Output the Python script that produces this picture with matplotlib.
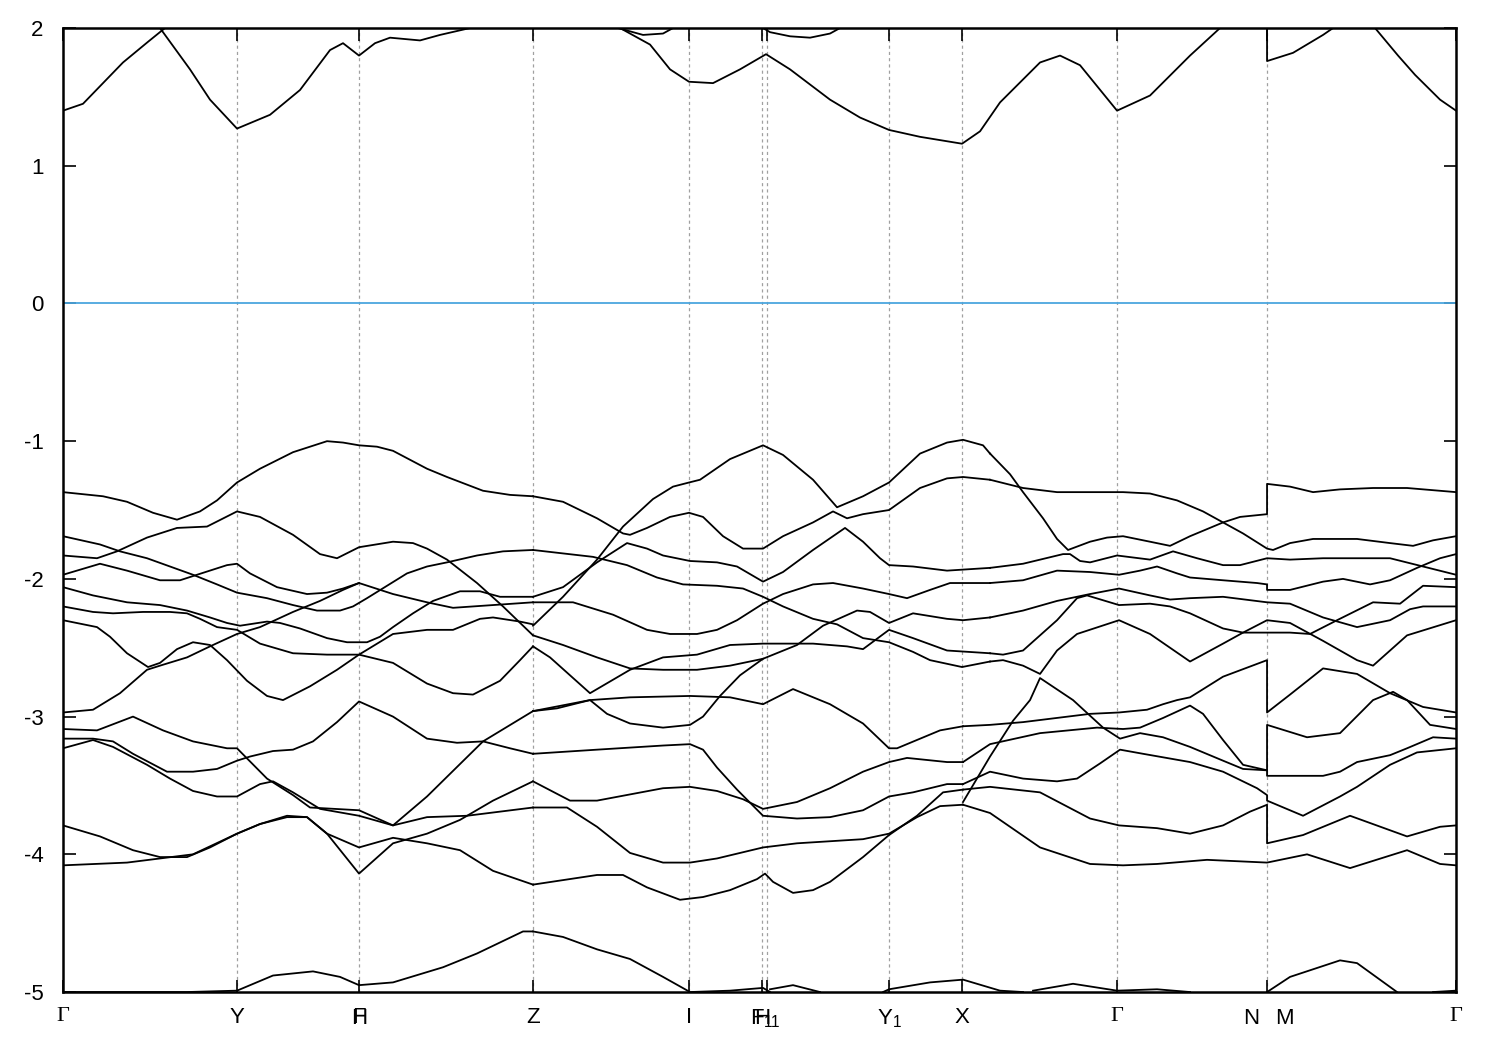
import matplotlib
matplotlib.use("Agg")
import matplotlib.pyplot as plt

plt.rcParams["font.family"] = ["Liberation Sans", "DejaVu Sans"]
plt.rcParams["mathtext.fontset"] = "custom"
plt.rcParams["mathtext.rm"] = "Liberation Sans"
plt.rcParams["mathtext.default"] = "regular"

# high-symmetry points along the path (arbitrary k units)
kpath = [0.00, 1.74, 2.96, 4.70, 6.26, 6.99, 7.04, 8.26, 8.99, 10.54, 12.04, 13.93]
klabels = ["Γ", "Y", "F", "Z", "I", "F$_1$", "H$_1$", "Y$_1$", "X", "Γ", "", "Γ"]
ylim = (-5, 2)
yticks = [-5, -4, -3, -2, -1, 0, 1, 2]

# ---- conduction bands (clipped at the top) ----
cond = [
    [(0.00, 1.40), (0.20, 1.45), (0.40, 1.60), (0.60, 1.75), (0.85, 1.90), (1.02, 2.00), (1.10, 2.06)],
    [(0.90, 2.06), (0.97, 2.00), (1.27, 1.70), (1.47, 1.48), (1.74, 1.27), (2.07, 1.37), (2.37, 1.55),
     (2.67, 1.84), (2.80, 1.89), (2.96, 1.80), (3.12, 1.89), (3.27, 1.93), (3.57, 1.91), (3.77, 1.95),
     (4.07, 2.00), (4.20, 2.03)],
    [(5.50, 2.05), (5.57, 2.00), (5.87, 1.88), (6.07, 1.70), (6.26, 1.61), (6.50, 1.60), (6.77, 1.70),
     (7.03, 1.81), (7.27, 1.70), (7.67, 1.48), (7.97, 1.35), (8.26, 1.26), (8.57, 1.21), (8.99, 1.16),
     (9.17, 1.25), (9.37, 1.46), (9.77, 1.75), (9.97, 1.80), (10.17, 1.73), (10.54, 1.40), (10.87, 1.51),
     (11.27, 1.80), (11.57, 2.00), (11.65, 2.05)],
    [(5.50, 2.03), (5.55, 2.00), (5.80, 1.95), (6.00, 1.96), (6.10, 2.00), (6.15, 2.03)],
    [(6.95, 2.03), (7.00, 2.00), (7.07, 1.97), (7.27, 1.94), (7.47, 1.93), (7.67, 1.96), (7.77, 2.00), (7.82, 2.03)],
    [(12.04, 2.05), (12.04, 1.76), (12.30, 1.82), (12.60, 1.95), (12.80, 2.05)],
    [(13.05, 2.05), (13.12, 2.00), (13.35, 1.80), (13.52, 1.66), (13.77, 1.48), (13.93, 1.40)],
]

# ---- valence bands, Γ - Y - F|H - Z ----
val_gz = [
    [(0, -1.37), (0.40, -1.40), (0.64, -1.44), (0.90, -1.52), (1.14, -1.57), (1.37, -1.51), (1.54, -1.43),
     (1.74, -1.30), (1.97, -1.20), (2.30, -1.08), (2.64, -1.00), (2.80, -1.01), (2.96, -1.03), (3.14, -1.04),
     (3.30, -1.07), (3.64, -1.20), (3.84, -1.26), (4.20, -1.36), (4.47, -1.39), (4.70, -1.40)],
    [(0, -1.69), (0.37, -1.75), (0.57, -1.80), (0.84, -1.85), (1.07, -1.91), (1.30, -1.97), (1.54, -2.04),
     (1.74, -2.10), (2.04, -2.14), (2.30, -2.19), (2.54, -2.23), (2.77, -2.23), (2.90, -2.20), (3.04, -2.14),
     (3.24, -2.05), (3.44, -1.96), (3.64, -1.91), (3.84, -1.88), (4.14, -1.83), (4.40, -1.80), (4.70, -1.79)],
    [(0, -1.83), (0.34, -1.85), (0.54, -1.80), (0.84, -1.70), (1.14, -1.63), (1.44, -1.62), (1.74, -1.51),
     (1.97, -1.55), (2.30, -1.68), (2.57, -1.82), (2.74, -1.85), (2.96, -1.77), (3.30, -1.73), (3.50, -1.74),
     (3.64, -1.78), (3.84, -1.86), (4.14, -2.03), (4.40, -2.20), (4.70, -2.41)],
    [(0, -1.97), (0.37, -1.89), (0.64, -1.94), (0.97, -2.01), (1.17, -2.01), (1.34, -1.97), (1.64, -1.90),
     (1.74, -1.89), (1.87, -1.96), (2.14, -2.06), (2.44, -2.11), (2.64, -2.10), (2.80, -2.07), (2.96, -2.03),
     (3.30, -2.11), (3.64, -2.17), (3.90, -2.21), (4.30, -2.19), (4.70, -2.17)],
    [(0, -2.06), (0.30, -2.12), (0.64, -2.17), (0.97, -2.19), (1.24, -2.23), (1.47, -2.28), (1.64, -2.32),
     (1.77, -2.34), (2.04, -2.31), (2.17, -2.32), (2.37, -2.36), (2.64, -2.43), (2.84, -2.46), (3.04, -2.46),
     (3.17, -2.42), (3.30, -2.35), (3.50, -2.25), (3.70, -2.16), (3.97, -2.09), (4.17, -2.09), (4.37, -2.13),
     (4.70, -2.13)],
    [(0, -2.20), (0.30, -2.24), (0.50, -2.25), (0.80, -2.24), (1.07, -2.24), (1.24, -2.25), (1.37, -2.29),
     (1.54, -2.35), (1.74, -2.37), (1.97, -2.47), (2.30, -2.54), (2.64, -2.55), (2.96, -2.55), (3.30, -2.40),
     (3.64, -2.37), (3.90, -2.37), (4.17, -2.29), (4.30, -2.28), (4.57, -2.31), (4.70, -2.33)],
    [(0, -2.30), (0.34, -2.35), (0.47, -2.42), (0.64, -2.54), (0.85, -2.64), (0.97, -2.61), (1.14, -2.51),
     (1.30, -2.46), (1.47, -2.48), (1.64, -2.59), (1.84, -2.74), (2.04, -2.85), (2.20, -2.88), (2.47, -2.78),
     (2.74, -2.66), (2.96, -2.55), (3.30, -2.61), (3.64, -2.76), (3.90, -2.83), (4.10, -2.84), (4.37, -2.74),
     (4.57, -2.59), (4.70, -2.49)],
    [(0, -2.97), (0.30, -2.95), (0.57, -2.83), (0.84, -2.66), (0.97, -2.63), (1.24, -2.57), (1.47, -2.49),
     (1.74, -2.40), (1.97, -2.35), (2.30, -2.24), (2.57, -2.16), (2.80, -2.08), (2.96, -2.03)],
    [(0, -3.09), (0.34, -3.10), (0.70, -3.00), (1.00, -3.10), (1.30, -3.18), (1.64, -3.23), (1.74, -3.23),
     (2.04, -3.45), (2.30, -3.57), (2.47, -3.66), (2.96, -3.68), (3.30, -3.79), (3.64, -3.58), (4.20, -3.18),
     (4.70, -2.96)],
    [(0, -3.16), (0.30, -3.16), (0.50, -3.18), (0.70, -3.27), (1.04, -3.40), (1.30, -3.40), (1.54, -3.38),
     (1.74, -3.32), (1.87, -3.29), (2.10, -3.25), (2.30, -3.24), (2.50, -3.18), (2.74, -3.04), (2.96, -2.89),
     (3.30, -3.00), (3.64, -3.16), (3.94, -3.19), (4.20, -3.18), (4.47, -3.23), (4.70, -3.27)],
    [(0, -3.23), (0.30, -3.17), (0.50, -3.22), (0.84, -3.35), (1.07, -3.45), (1.30, -3.54), (1.54, -3.58),
     (1.74, -3.58), (1.97, -3.49), (2.10, -3.47), (2.30, -3.55), (2.57, -3.67), (2.96, -3.72), (3.30, -3.79),
     (3.64, -3.73), (4.04, -3.72), (4.70, -3.66)],
    [(0, -3.79), (0.37, -3.87), (0.70, -3.97), (0.97, -4.02), (1.24, -4.02), (1.47, -3.95), (1.74, -3.85),
     (1.97, -3.78), (2.24, -3.73), (2.44, -3.73), (2.64, -3.85), (2.96, -4.14), (3.30, -3.92), (3.64, -3.85),
     (3.97, -3.75), (4.30, -3.61), (4.70, -3.47)],
    [(0, -4.08), (0.64, -4.06), (0.97, -4.03), (1.30, -4.00), (1.74, -3.85), (1.97, -3.78), (2.24, -3.72),
     (2.44, -3.73), (2.64, -3.85), (2.96, -3.95), (3.30, -3.88), (3.64, -3.92), (3.97, -3.97), (4.30, -4.12),
     (4.70, -4.22)],
    [(0, -5.00), (0.37, -5.00), (1.24, -5.00), (1.74, -4.99), (2.10, -4.88), (2.50, -4.85), (2.77, -4.89),
     (2.96, -4.95), (3.30, -4.93), (3.80, -4.82), (4.14, -4.72), (4.60, -4.56), (4.70, -4.56)],
]

# ---- valence bands, Z - I - F1|H1 - Y1 - X ----
val_zx = [
    [(4.70, -1.40), (5.00, -1.44), (5.34, -1.56), (5.60, -1.67), (5.67, -1.68), (5.84, -1.63), (6.07, -1.55),
     (6.26, -1.52), (6.40, -1.55), (6.60, -1.69), (6.80, -1.78), (7.00, -1.78), (7.20, -1.69), (7.50, -1.59),
     (7.70, -1.51), (7.84, -1.56), (8.00, -1.53), (8.26, -1.50), (8.57, -1.34), (8.84, -1.27), (9.00, -1.26),
     (9.27, -1.28)],
    [(4.70, -2.34), (5.00, -2.13), (5.34, -1.86), (5.60, -1.62), (5.90, -1.42), (6.10, -1.33), (6.26, -1.30),
     (6.37, -1.28), (6.67, -1.13), (7.00, -1.03), (7.20, -1.10), (7.50, -1.28), (7.74, -1.48), (8.00, -1.40),
     (8.26, -1.30), (8.57, -1.09), (8.84, -1.01), (9.00, -0.99), (9.20, -1.03), (9.27, -1.09)],
    [(4.70, -1.79), (5.30, -1.84), (5.64, -1.90), (5.94, -1.99), (6.20, -2.04), (6.54, -2.05), (6.80, -2.07),
     (7.00, -2.13), (7.20, -2.20), (7.50, -2.29), (7.74, -2.33), (8.00, -2.43), (8.26, -2.46), (8.50, -2.53),
     (8.67, -2.59), (8.99, -2.64), (9.27, -2.60)],
    [(4.70, -2.13), (5.00, -2.06), (5.34, -1.88), (5.64, -1.74), (5.84, -1.78), (6.00, -1.83), (6.27, -1.87),
     (6.54, -1.88), (6.74, -1.91), (7.00, -2.02), (7.20, -1.95), (7.50, -1.79), (7.82, -1.63), (8.00, -1.73),
     (8.17, -1.85), (8.26, -1.90), (8.50, -1.91), (8.84, -1.94), (9.27, -1.92)],
    [(4.70, -2.17), (5.10, -2.17), (5.50, -2.26), (5.84, -2.37), (6.07, -2.40), (6.34, -2.40), (6.54, -2.37),
     (6.74, -2.30), (7.00, -2.18), (7.20, -2.11), (7.50, -2.04), (7.70, -2.03), (8.00, -2.07), (8.26, -2.11),
     (8.44, -2.14), (8.67, -2.08), (8.87, -2.03), (9.27, -2.03)],
    [(4.70, -2.41), (5.00, -2.48), (5.34, -2.57), (5.67, -2.65), (6.00, -2.66), (6.34, -2.66), (6.67, -2.63),
     (7.00, -2.58), (7.34, -2.48), (7.60, -2.34), (7.94, -2.23), (8.07, -2.24), (8.26, -2.32), (8.50, -2.25),
     (8.84, -2.29), (9.00, -2.30), (9.27, -2.28)],
    [(4.70, -2.49), (4.87, -2.57), (5.27, -2.83), (5.67, -2.66), (6.00, -2.57), (6.34, -2.55), (6.67, -2.48),
     (7.00, -2.47), (7.50, -2.47), (7.84, -2.49), (8.00, -2.51), (8.26, -2.37), (8.50, -2.43), (8.84, -2.52),
     (9.27, -2.54)],
    [(4.70, -2.96), (5.27, -2.88), (5.67, -2.86), (6.27, -2.85), (6.67, -2.86), (7.00, -2.91), (7.30, -2.80),
     (7.67, -2.91), (8.00, -3.05), (8.26, -3.23), (8.34, -3.23), (8.77, -3.10), (9.00, -3.07)],
    [(4.70, -2.96), (4.94, -2.94), (5.27, -2.88), (5.44, -2.98), (5.67, -3.05), (6.00, -3.08), (6.27, -3.06),
     (6.40, -3.00), (6.57, -2.85), (6.77, -2.70), (7.00, -2.58)],
    [(4.70, -3.27), (5.34, -3.24), (6.00, -3.21), (6.27, -3.20), (6.40, -3.24), (6.54, -3.37), (6.74, -3.53),
     (7.00, -3.72), (7.34, -3.74), (7.67, -3.73), (8.00, -3.68), (8.26, -3.58), (8.50, -3.55), (8.84, -3.49),
     (9.00, -3.49)],
    [(4.70, -3.47), (5.07, -3.61), (5.34, -3.61), (6.00, -3.52), (6.27, -3.51), (6.54, -3.54), (6.80, -3.60),
     (7.00, -3.67), (7.34, -3.62), (7.67, -3.52), (8.00, -3.40), (8.26, -3.33), (8.44, -3.30), (8.84, -3.33),
     (9.00, -3.33)],
    [(4.70, -3.66), (5.04, -3.66), (5.34, -3.80), (5.67, -3.99), (6.00, -4.06), (6.27, -4.06), (6.54, -4.03),
     (7.00, -3.95), (7.34, -3.92), (8.00, -3.89), (8.26, -3.85), (8.54, -3.73), (8.77, -3.65), (9.00, -3.64)],
    [(4.70, -4.22), (5.34, -4.15), (5.60, -4.15), (5.84, -4.24), (6.17, -4.33), (6.40, -4.31), (6.67, -4.26),
     (6.94, -4.18), (7.02, -4.14), (7.10, -4.20), (7.30, -4.28), (7.50, -4.26), (7.67, -4.20), (8.00, -4.02),
     (8.26, -3.86), (8.54, -3.72), (8.80, -3.55), (9.00, -3.53)],
    [(4.70, -4.56), (5.00, -4.60), (5.34, -4.69), (5.67, -4.76), (6.00, -4.89), (6.27, -5.00), (6.67, -4.99),
     (7.00, -4.97), (7.07, -5.00)],
    [(7.07, -4.98), (7.30, -4.95), (7.57, -5.00)],
    [(8.20, -5.00), (8.26, -4.98), (8.67, -4.93), (9.00, -4.91), (9.37, -4.99), (9.60, -5.00)],
]

# ---- valence bands, X - Γ - N|M - Γ ----
val_xg = [
    [(9.27, -1.09), (9.47, -1.24), (9.60, -1.37), (9.80, -1.56), (9.94, -1.71), (10.05, -1.79), (10.27, -1.73),
     (10.44, -1.70), (10.60, -1.69), (10.87, -1.73), (11.07, -1.76), (11.27, -1.69), (11.60, -1.59),
     (11.77, -1.55), (12.04, -1.53), (12.04, -1.31), (12.27, -1.33), (12.50, -1.37), (12.77, -1.35),
     (13.10, -1.34), (13.44, -1.34), (13.93, -1.37)],
    [(9.27, -1.28), (9.60, -1.34), (9.94, -1.37), (10.60, -1.37), (10.87, -1.38), (11.14, -1.43), (11.40, -1.51),
     (11.60, -1.59), (11.80, -1.67), (12.04, -1.78), (12.10, -1.79), (12.27, -1.74), (12.50, -1.71),
     (12.94, -1.71), (13.27, -1.74), (13.50, -1.76), (13.70, -1.72), (13.93, -1.69)],
    [(9.27, -1.92), (9.60, -1.89), (10.00, -1.82), (10.07, -1.82), (10.17, -1.87), (10.27, -1.88), (10.54, -1.83),
     (10.87, -1.86), (11.10, -1.80), (11.34, -1.85), (11.60, -1.90), (11.77, -1.90), (12.04, -1.85),
     (12.27, -1.86), (12.60, -1.85), (12.94, -1.85), (13.27, -1.85), (13.60, -1.91), (13.93, -1.97)],
    [(9.27, -2.03), (9.60, -2.01), (9.94, -1.94), (10.27, -1.95), (10.56, -1.97), (10.77, -1.94), (10.94, -1.91),
     (11.14, -1.96), (11.27, -1.99), (11.60, -2.01), (11.94, -2.03), (12.04, -2.04), (12.04, -2.08),
     (12.27, -2.08), (12.60, -2.02), (12.80, -2.00), (13.07, -2.04), (13.27, -2.01), (13.54, -1.92),
     (13.77, -1.85), (13.93, -1.82)],
    [(9.27, -2.28), (9.60, -2.23), (9.94, -2.16), (10.27, -2.11), (10.56, -2.07), (10.87, -2.12), (11.07, -2.15),
     (11.27, -2.14), (11.60, -2.13), (12.04, -2.17), (12.27, -2.18), (12.60, -2.28), (12.94, -2.35),
     (13.27, -2.30), (13.47, -2.22), (13.60, -2.20), (13.93, -2.20)],
    [(9.27, -2.54), (9.40, -2.55), (9.60, -2.52), (9.94, -2.30), (10.14, -2.14), (10.24, -2.12), (10.56, -2.19),
     (10.87, -2.18), (11.07, -2.20), (11.27, -2.25), (11.60, -2.36), (11.80, -2.39), (12.04, -2.39),
     (12.27, -2.39), (12.47, -2.40), (12.74, -2.30), (13.10, -2.17), (13.37, -2.18), (13.60, -2.05),
     (13.93, -2.06)],
    [(9.27, -2.60), (9.40, -2.59), (9.60, -2.63), (9.77, -2.69), (9.94, -2.52), (10.14, -2.40), (10.56, -2.30),
     (10.87, -2.40), (11.27, -2.60), (11.60, -2.47), (11.80, -2.39), (12.04, -2.30), (12.27, -2.32),
     (12.60, -2.45), (12.94, -2.59), (13.10, -2.63), (13.44, -2.41), (13.93, -2.30)],
    [(9.00, -3.07), (9.27, -3.06), (9.60, -3.04), (10.27, -2.98), (10.56, -2.97), (10.84, -2.95), (11.00, -2.91),
     (11.14, -2.88), (11.27, -2.86), (11.60, -2.71), (12.04, -2.59), (12.04, -2.97), (12.27, -2.84),
     (12.60, -2.65), (12.94, -2.69), (13.27, -2.83), (13.60, -2.93), (13.93, -2.97)],
    [(9.00, -3.33), (9.27, -3.20), (9.77, -3.12), (10.34, -3.08), (10.60, -3.09), (10.77, -3.08), (11.00, -3.01),
     (11.27, -2.92), (11.40, -2.98), (11.60, -3.17), (11.80, -3.35), (12.04, -3.39), (12.04, -3.43),
     (12.27, -3.43), (12.60, -3.43), (12.77, -3.40), (12.94, -3.33), (13.27, -3.28), (13.44, -3.23),
     (13.70, -3.15), (13.93, -3.16)],
    [(9.00, -3.62), (9.27, -3.29), (9.50, -3.03), (9.67, -2.88), (9.77, -2.72), (10.10, -2.88), (10.40, -3.08),
     (10.57, -3.16), (10.77, -3.12), (11.00, -3.15), (11.27, -3.22), (11.60, -3.32), (11.80, -3.38),
     (12.04, -3.39), (12.04, -3.06), (12.44, -3.15), (12.77, -3.12), (13.10, -2.88), (13.30, -2.82),
     (13.44, -2.88), (13.67, -3.06), (13.93, -3.09)],
    [(9.00, -3.49), (9.27, -3.40), (9.60, -3.45), (9.94, -3.47), (10.14, -3.45), (10.37, -3.34), (10.57, -3.24),
     (10.80, -3.27), (11.27, -3.33), (11.60, -3.40), (11.94, -3.52), (12.04, -3.57), (12.04, -3.61),
     (12.40, -3.72), (12.77, -3.58), (12.94, -3.51), (13.27, -3.35), (13.54, -3.26), (13.93, -3.23)],
    [(9.00, -3.53), (9.27, -3.51), (9.77, -3.55), (10.27, -3.74), (10.56, -3.79), (10.94, -3.81), (11.27, -3.85),
     (11.60, -3.79), (11.87, -3.69), (12.04, -3.64), (12.04, -3.92), (12.40, -3.86), (12.87, -3.72),
     (13.44, -3.87), (13.77, -3.80), (13.93, -3.79)],
    [(9.00, -3.64), (9.27, -3.70), (9.77, -3.95), (10.27, -4.07), (10.60, -4.08), (10.94, -4.07), (11.44, -4.04),
     (12.04, -4.06), (12.44, -4.00), (12.87, -4.10), (13.44, -3.97), (13.77, -4.07), (13.93, -4.08)],
    [(9.70, -4.99), (10.10, -4.94), (10.54, -4.99), (10.94, -4.98), (11.27, -5.00)],
    [(12.04, -5.00), (12.27, -4.89), (12.77, -4.77), (12.94, -4.79), (13.34, -5.00)],
    [(13.70, -5.00), (13.93, -4.99)],
]

fig = plt.figure(figsize=(15, 10.5), dpi=100)
ax = fig.add_axes([0.042, 0.0552, 0.9287, 0.9181])

for k in kpath[1:-1]:
    ax.axvline(k, color="#a0a0a0", lw=0.9, ls=(0, (2.5, 2.5)), zorder=1)

ax.axhline(0, color="#4ba6de", lw=1.3, zorder=2)

for group in (cond, val_gz, val_zx, val_xg):
    for band in group:
        ks = [p[0] for p in band]
        es = [p[1] for p in band]
        ax.plot(ks, es, color="black", lw=1.3, zorder=3)

ax.set_xlim(kpath[0], kpath[-1])
ax.set_ylim(*ylim)
ax.set_yticks(yticks)
ax.set_yticklabels([str(v) for v in yticks])
ax.set_xticks(kpath)
ax.set_xticklabels(klabels)
for lab in ax.get_xticklabels():
    if lab.get_text() == "Γ":
        lab.set_fontfamily("Liberation Serif")
        lab.set_fontsize(17)

ax.tick_params(axis="both", direction="in", length=9, width=1.2, labelsize=16,
               top=True, right=True)
ax.tick_params(axis="x", pad=11)
ax.tick_params(axis="y", pad=14)
for sp in ax.spines.values():
    sp.set_linewidth(1.8)

# overlapped labels at F|H and the N|M break
trans = ax.get_xaxis_transform()
ax.text(kpath[2], -0.0165, "H", transform=trans, ha="center", va="top", fontsize=16)
ax.text(kpath[10] - 0.16, -0.0165, "N", transform=trans, ha="center", va="top", fontsize=16)
ax.text(kpath[10] + 0.17, -0.0165, "M", transform=trans, ha="center", va="top", fontsize=16)

fig.savefig("out.png", dpi=100)
